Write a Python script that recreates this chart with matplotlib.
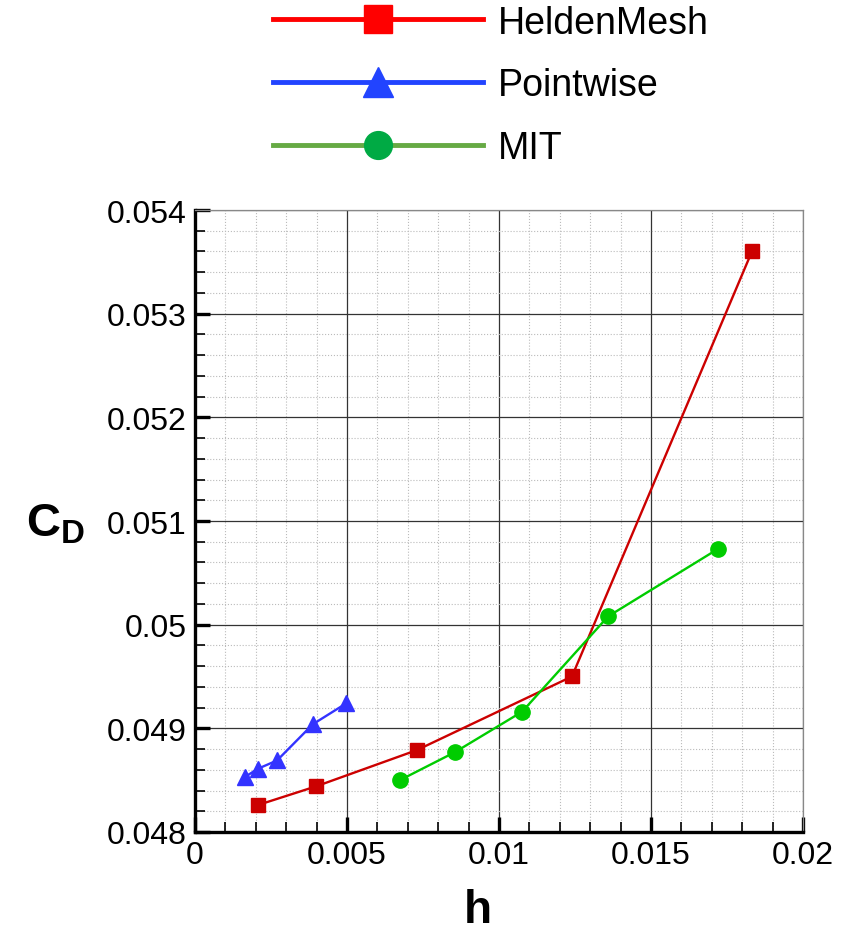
import numpy as np
from matplotlib import pyplot as plt
from matplotlib.lines import Line2D
from matplotlib.ticker import MultipleLocator, FuncFormatter

plt.rcParams['font.family'] = ['Liberation Sans', 'DejaVu Sans']
plt.rcParams['mathtext.fontset'] = 'custom'
plt.rcParams['mathtext.bf'] = 'Liberation Sans:bold'
plt.rcParams['mathtext.rm'] = 'Liberation Sans'

# data
helden_h = [0.00207, 0.00398, 0.00730, 0.01240, 0.01832]
helden_cd = [0.04826, 0.04844, 0.04879, 0.04950, 0.05360]

pointwise_h = [0.00164, 0.00207, 0.00270, 0.00388, 0.00497]
pointwise_cd = [0.04853, 0.04861, 0.04869, 0.04904, 0.04924]

mit_h = [0.00674, 0.00855, 0.01076, 0.01359, 0.01720]
mit_cd = [0.04850, 0.04877, 0.04916, 0.05008, 0.05073]

labels = ["HeldenMesh", "Pointwise", "MIT"]

fig = plt.figure(figsize=(8.51, 9.37), dpi=100)
ax = fig.add_axes([0.2291, 0.111, 0.7145, 0.6638])

ax.plot(helden_h, helden_cd, color='#cc0000', lw=1.7, marker='s', ms=10, zorder=3)
ax.plot(pointwise_h, pointwise_cd, color='#3333ff', lw=1.7, marker='^', ms=11, zorder=3)
ax.plot(mit_h, mit_cd, color='#00cc00', lw=1.7, marker='o', ms=11, zorder=3)

ax.set_xlim(0, 0.02)
ax.set_ylim(0.048, 0.054)
ax.xaxis.set_major_locator(MultipleLocator(0.005))
ax.xaxis.set_minor_locator(MultipleLocator(0.001))
ax.yaxis.set_major_locator(MultipleLocator(0.001))
ax.yaxis.set_minor_locator(MultipleLocator(0.0002))
fmt = FuncFormatter(lambda v, p: '%g' % round(v, 6))
ax.xaxis.set_major_formatter(fmt)
ax.yaxis.set_major_formatter(fmt)

ax.grid(which='major', color='#333333', lw=0.9, ls='-')
ax.grid(which='minor', color='#bbbbbb', lw=0.8, ls=':')
ax.set_axisbelow(True)

for s in ['top', 'right']:
    ax.spines[s].set_color('#888888')
    ax.spines[s].set_linewidth(0.9)
for s in ['left', 'bottom']:
    ax.spines[s].set_linewidth(2.4)

ax.tick_params(which='major', direction='in', length=11, width=2.4,
               labelsize=23, pad=6, top=False, right=False)
ax.tick_params(which='minor', direction='in', length=7, width=1.2,
               top=False, right=False)

ax.set_xlabel('h', fontsize=33, fontweight='bold')
ax.xaxis.set_label_coords(0.465, -0.09)
ax.set_ylabel(r'$\mathbf{C_D}$', fontsize=34, rotation=0, va='center', ha='center')
ax.yaxis.set_label_coords(-0.229, 0.496)

handles = [
    Line2D([], [], color='#ff0000', lw=3.5, marker='s', ms=20, mfc='#ff0000', mec='#ff0000'),
    Line2D([], [], color='#2244ff', lw=3.5, marker='^', ms=22, mfc='#2244ff', mec='#2244ff'),
    Line2D([], [], color='#66aa44', lw=3.5, marker='o', ms=20, mfc='#00aa44', mec='#00aa44'),
]
fig.legend(handles, labels, loc='upper left', bbox_to_anchor=(0.3208, 0.994),
           frameon=False, fontsize=27, handlelength=5.6, handletextpad=0.4,
           labelspacing=0.71, borderpad=0, borderaxespad=0)

fig.savefig('out.png', dpi=100)
